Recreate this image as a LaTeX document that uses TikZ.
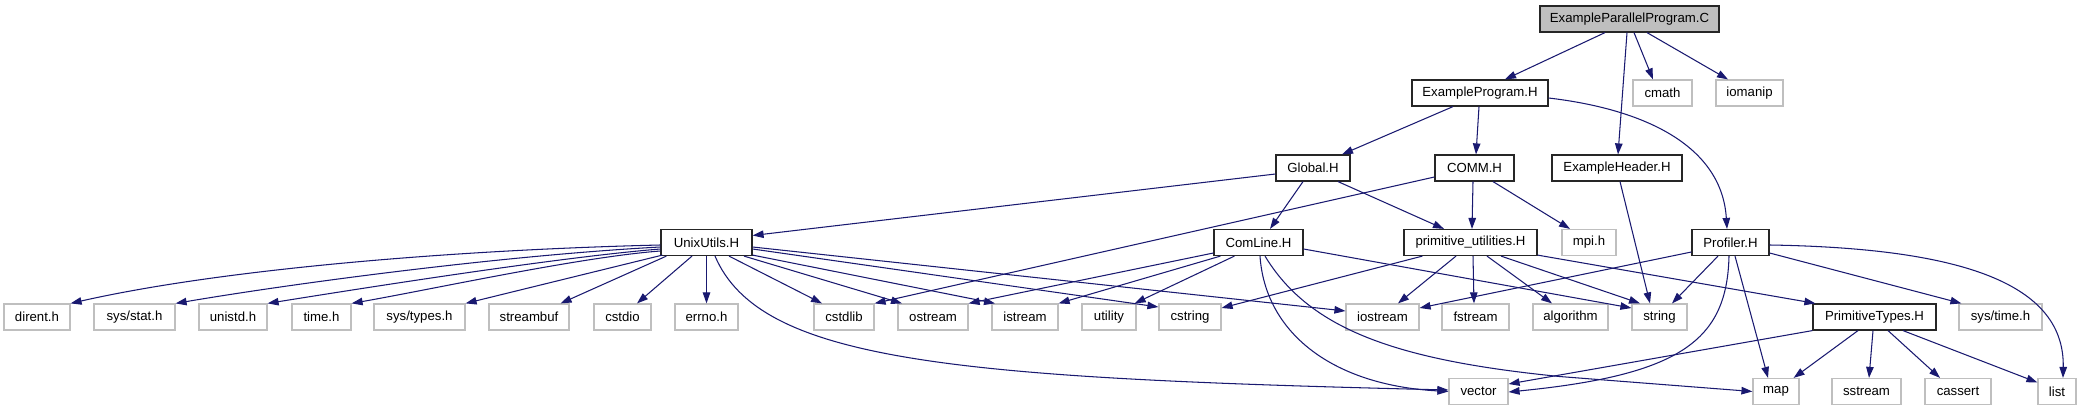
\documentclass[tikz,border=0pt]{standalone}
\usepackage{fontspec}
\setmainfont{Liberation Sans}
\usetikzlibrary{arrows.meta,calc}
\definecolor{edgeblue}{HTML}{191970}
\definecolor{leafgray}{HTML}{BFBFBF}
\begin{document}
\begin{tikzpicture}[x=1pt,y=-1pt,
  box/.style={rectangle, inner sep=0pt, minimum height=26pt, font=\fontsize{13.2}{15}\selectfont, text=black},
  proj/.style={box, draw=black!85, line width=1.2pt, fill=white},
  leaf/.style={box, draw=leafgray, line width=1.2pt, fill=white},
  mainf/.style={box, draw=black!85, line width=1.2pt, fill=leafgray},
  dep/.style={draw=edgeblue, line width=1.05pt, -{Triangle[length=11pt,width=7.5pt]}}]
\fill[white] (0,0) rectangle (2083,411);
\useasboundingbox (0,0) rectangle (2083,411);
% row 0
\node[mainf, minimum width=179pt] (epp) at (1629.5,19) {ExampleParallelProgram.C};
% row 1
\node[proj, minimum width=136pt] (ep) at (1480,93) {ExampleProgram.H};
\node[leaf, minimum width=59pt] (cmath) at (1662.5,93) {cmath};
\node[leaf, minimum width=67pt] (iomanip) at (1749.5,93) {iomanip};
% row 2
\node[proj, minimum width=74pt] (glob) at (1313,168) {Global.H};
\node[proj, minimum width=79pt] (comm) at (1474.5,168) {COMM.H};
\node[proj, minimum width=130pt] (exh) at (1617,168) {ExampleHeader.H};
% row 3
\node[proj, minimum width=91pt] (uu) at (706.5,242.5) {UnixUtils.H};
\node[proj, minimum width=89pt] (cl) at (1258.5,242.5) {ComLine.H};
\node[proj, minimum width=133pt] (pu) at (1470.5,242.5) {primitive\_utilities.H};
\node[leaf, minimum width=54pt] (mpi) at (1589,242.5) {mpi.h};
\node[proj, minimum width=77pt] (prof) at (1730.5,242.5) {Profiler.H};
% row 4
\node[leaf, minimum width=66pt] (dirent) at (37,317) {dirent.h};
\node[leaf, minimum width=81pt] (sysstat) at (134.5,317) {sys/stat.h};
\node[leaf, minimum width=68pt] (unistd) at (233,317) {unistd.h};
\node[leaf, minimum width=59pt] (timeh) at (321.5,317) {time.h};
\node[leaf, minimum width=91pt] (systypes) at (419.5,317) {sys/types.h};
\node[leaf, minimum width=80pt] (streambuf) at (529,317) {streambuf};
\node[leaf, minimum width=57pt] (cstdio) at (622.5,317) {cstdio};
\node[leaf, minimum width=63pt] (errno) at (706.5,317) {errno.h};
\node[leaf, minimum width=60pt] (cstdlib) at (844,317) {cstdlib};
\node[leaf, minimum width=70pt] (ostream) at (933,317) {ostream};
\node[leaf, minimum width=66pt] (istream) at (1025,317) {istream};
\node[leaf, minimum width=54pt] (utility) at (1109,317) {utility};
\node[leaf, minimum width=62pt] (cstring) at (1190,317) {cstring};
\node[leaf, minimum width=73pt] (iostream) at (1382.5,317) {iostream};
\node[leaf, minimum width=67pt] (fstream) at (1475.5,317) {fstream};
\node[leaf, minimum width=75pt] (algorithm) at (1570.5,317) {algorithm};
\node[leaf, minimum width=55pt] (string) at (1659.5,317) {string};
\node[proj, minimum width=123pt] (pt) at (1874.5,317) {PrimitiveTypes.H};
\node[leaf, minimum width=83pt] (systime) at (2000.5,317) {sys/time.h};
% row 5
\node[leaf, minimum width=59pt] (vector) at (1478.5,391.5) {vector};
\node[leaf, minimum width=46pt] (map) at (1776,391.5) {map};
\node[leaf, minimum width=69pt] (sstream) at (1866.5,391.5) {sstream};
\node[leaf, minimum width=66pt] (cassert) at (1958,391.5) {cassert};
\node[leaf, minimum width=38pt] (list) at (2057,391.5) {list};

% ExampleParallelProgram.C
\draw[dep] ($(epp.south)+(-24.5,0)$) -- ($(ep.north)+(25,0)$);
\draw[dep] ($(epp.south)+(-2.5,0)$) -- ($(exh.north)+(1,0)$);
\draw[dep] ($(epp.south)+(4.5,0)$) -- ($(cmath.north)+(-9.5,0)$);
\draw[dep] ($(epp.south)+(17.5,0)$) -- ($(iomanip.north)+(-21.5,0)$);
% ExampleProgram.H
\draw[dep] ($(ep.south)+(-27,0)$) -- ($(glob.north)+(29,0)$);
\draw[dep] ($(ep.south)+(-1,0)$) -- ($(comm.north)+(1.5,0)$);
\draw[dep] ($(ep.east)+(0,5)$) .. controls +(102,12) and +(-5,-80) .. ($(prof.north)+(-3.5,0)$);
% Global.H
\draw[dep] ($(glob.west)+(0,6)$) -- ($(uu.east)+(0,-7)$);
\draw[dep] ($(glob.south)+(-10,0)$) -- ($(cl.north)+(11.5,0)$);
\draw[dep] ($(glob.south)+(25,0)$) -- ($(pu.north)+(-26.5,0)$);
% COMM.H
\draw[dep] ($(comm.south)+(-1.5,0)$) -- ($(pu.north)+(1.5,0)$);
\draw[dep] ($(comm.south)+(18.5,0)$) -- ($(mpi.north)+(-19,0)$);
\draw[dep] ($(comm.west)+(0,9)$) -- (cstdlib.north east);
% ExampleHeader.H
\draw[dep] ($(exh.south)+(3,0)$) -- ($(string.north)+(-9.5,0)$);
% UnixUtils.H
\draw[dep] ($(uu.west)+(0,2.5)$) .. controls +(-210,5) and +(150,-34) .. (dirent.north east);
\draw[dep] ($(uu.west)+(0,4.5)$) .. controls +(-150,8) and +(130,-22) .. (sysstat.north east);
\draw[dep] ($(uu.west)+(0,6.5)$) .. controls +(-100,8) and +(100,-16) .. (unistd.north east);
\draw[dep] ($(uu.west)+(0,8.5)$) .. controls +(-80,6) and +(80,-14) .. (timeh.north east);
\draw[dep] ($(uu.south west)+(2,-1)$) -- (systypes.north east);
\draw[dep] ($(uu.south west)+(6,0)$) -- ($(streambuf.north east)+(-9,0)$);
\draw[dep] ($(uu.south)+(-14.5,0)$) -- ($(cstdio.north)+(14.5,0)$);
\draw[dep] (uu.south) -- (errno.north);
\draw[dep] ($(uu.south)+(22.5,0)$) -- ($(cstdlib.north)+(-22,0)$);
\draw[dep] ($(uu.south)+(37.5,0)$) -- ($(ostream.north)+(-31,0)$);
\draw[dep] ($(uu.south east)+(0,-1)$) -- ($(istream.north)+(-30,0)$);
\draw[dep] ($(uu.east)+(0,6.5)$) -- ($(cstring.west)+(0,-10)$);
\draw[dep] ($(uu.east)+(0,4.5)$) -- ($(iostream.west)+(0,-6)$);
\draw[dep] ($(uu.south)+(8.5,0)$) .. controls +(45,105) and +(-499,-12) .. ($(vector.west)+(0,-1.5)$);
% ComLine.H
\draw[dep] ($(cl.west)+(0,10.5)$) -- (ostream.north east);
\draw[dep] ($(cl.south west)+(7,0)$) -- (istream.north east);
\draw[dep] ($(cl.south west)+(21,0)$) -- ($(utility.north east)+(-2,0)$);
\draw[dep] ($(cl.east)+(0,6.5)$) -- ($(string.west)+(0,-9)$);
\draw[dep] ($(cl.south)+(1.5,0)$) .. controls +(5,74.5) and +(-119,-6.5) .. (vector.west);
\draw[dep] ($(cl.south)+(6.5,0)$) .. controls +(45,74.5) and +(-160,-16) .. ($(map.west)+(-193,-15)$) -- (map.west);
% primitive_utilities.H
\draw[dep] ($(pu.south west)+(19,0)$) -- ($(cstring.east)+(0,-9)$);
\draw[dep] ($(pu.south)+(-14.5,0)$) -- ($(iostream.north)+(15.5,0)$);
\draw[dep] ($(pu.south)+(2.5,0)$) -- ($(fstream.north)+(-1.5,0)$);
\draw[dep] ($(pu.south)+(16.5,0)$) -- ($(algorithm.north)+(-18.5,0)$);
\draw[dep] ($(pu.south)+(30.5,0)$) -- ($(string.north)+(-19.5,0)$);
\draw[dep] ($(pu.south east)+(0,-1)$) -- ($(pt.north west)+(3,0)$);
% Profiler.H
\draw[dep] ($(prof.west)+(0,9.5)$) -- ($(iostream.east)+(0,-9)$);
\draw[dep] ($(prof.south)+(-12.5,0)$) -- ($(string.north)+(12.5,0)$);
\draw[dep] ($(prof.south)+(4.5,0)$) -- ($(map.north)+(-8,0)$);
\draw[dep] ($(prof.south)+(-1.5,0)$) .. controls +(-2,84.5) and +(172,-17) .. ($(vector.east)+(0,0.5)$);
\draw[dep] ($(prof.east)+(0,10.5)$) -- ($(systime.north west)+(3,0)$);
\draw[dep] ($(prof.east)+(0,2.5)$) .. controls +(181,3) and +(2,-98.5) .. ($(list.north)+(6,0)$);
% PrimitiveTypes.H
\draw[dep] (pt.south west) -- ($(vector.east)+(0,-7.5)$);
\draw[dep] ($(pt.south)+(-16.5,0)$) -- ($(map.north east)+(-6,0)$);
\draw[dep] ($(pt.south)+(-1.5,0)$) -- ($(sstream.north)+(2.5,0)$);
\draw[dep] ($(pt.south)+(13.5,0)$) -- ($(cassert.north)+(-18,0)$);
\draw[dep] ($(pt.south)+(28.5,0)$) -- ($(list.west)+(0,-9)$);
\end{tikzpicture}
\end{document}
